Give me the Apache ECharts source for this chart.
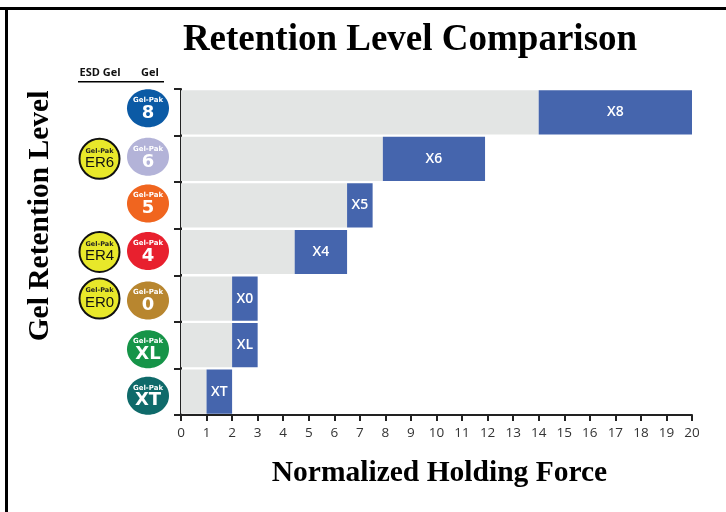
<!DOCTYPE html>
<html>
<head>
<meta charset="utf-8">
<title>Retention Level Comparison</title>
<script src="https://cdn.jsdelivr.net/npm/echarts@6/dist/echarts.min.js"></script>
<style>
  html, body { margin: 0; padding: 0; background: #fff; }
  #chart { width: 726px; height: 512px; }
</style>
</head>
<body>
<div id="chart"></div>
<script>
// top to bottom, same order as the picture
const levels = ['X8', 'X6', 'X5', 'X4', 'X0', 'XL', 'XT'];
const rangeStart = [14, 7.9, 6.5, 4.45, 2, 2, 1];
const rangeEnd = [20, 11.9, 7.5, 6.5, 3, 3, 2];

const gelNames = ['8', '6', '5', '4', '0', 'XL', 'XT'];
const gelColors = ['#0b5aa5', '#b3b3d8', '#f0651f', '#e8202e', '#b8862f', '#169448', '#0f6a6a'];
const esdLevels = ['X6', 'X4', 'X0'];
const esdNames = ['ER6', 'ER4', 'ER0'];

// badges sit a little off the band centres in the original
const gelNudge = [-4, -2, -2, -1, 2, 4, 4];

function gelBadge(params, api) {
  const i = params.dataIndex;
  const p = api.coord([0, levels[i]]);
  const cx = p[0] - 33;
  const cy = p[1] + gelNudge[i];
  return {
    type: 'group',
    children: [
      { type: 'ellipse', shape: { cx: cx, cy: cy, rx: 21, ry: 19 }, style: { fill: gelColors[i] } },
      { type: 'text', style: { x: cx, y: cy - 8, text: 'Gel-Pak', fill: '#fff', align: 'center', verticalAlign: 'middle',
        font: 'bold 7px "DejaVu Sans"' } },
      { type: 'text', style: { x: cx, y: cy + 5, text: gelNames[i], fill: '#fff', align: 'center', verticalAlign: 'middle',
        font: 'bold 18px "DejaVu Sans"' } }
    ]
  };
}

function esdBadge(params, api) {
  const i = params.dataIndex;
  const p = api.coord([0, esdLevels[i]]);
  const cx = p[0] - 81.5;
  const cy = p[1];
  return {
    type: 'group',
    children: [
      { type: 'circle', shape: { cx: cx, cy: cy, r: 20 }, style: { fill: '#e8e82a', stroke: '#111', lineWidth: 2 } },
      { type: 'text', style: { x: cx, y: cy - 8, text: 'Gel-Pak', fill: '#222', align: 'center', verticalAlign: 'middle',
        font: 'bold 6.5px "DejaVu Sans"' } },
      { type: 'text', style: { x: cx, y: cy + 4, text: esdNames[i], fill: '#111', align: 'center', verticalAlign: 'middle',
        font: '15px "Liberation Sans Narrow", "Liberation Sans"' } }
    ]
  };
}

const chart = echarts.init(document.getElementById('chart'));
chart.setOption({
  animation: false,
  title: {
    text: 'Retention Level Comparison',
    left: 405,
    top: 17,
    textAlign: 'center',
    textStyle: { fontFamily: 'Liberation Serif', fontWeight: 'bold', fontSize: 37, color: '#000' }
  },
  graphic: [
    // frame
    { type: 'rect', shape: { x: 0, y: 7, width: 726, height: 3 }, style: { fill: '#000' } },
    { type: 'rect', shape: { x: 5, y: 7, width: 3, height: 505 }, style: { fill: '#000' } },
    // badge column heads
    { type: 'text', style: { x: 100, y: 73, text: 'ESD Gel', fill: '#111', align: 'center', verticalAlign: 'middle',
      font: 'bold 11px "Open Sans"' } },
    { type: 'text', style: { x: 150, y: 73, text: 'Gel', fill: '#111', align: 'center', verticalAlign: 'middle',
      font: 'bold 11px "Open Sans"' } },
    { type: 'rect', shape: { x: 78, y: 81, width: 86, height: 1.5 }, style: { fill: '#000' } }
  ],
  grid: { left: 181, right: 34, top: 89, bottom: 97 },
  xAxis: {
    type: 'value',
    min: 0,
    max: 20,
    interval: 1,
    name: 'Normalized Holding Force',
    nameLocation: 'middle',
    nameGap: 43,
    nameTextStyle: { fontFamily: 'Liberation Serif', fontWeight: 'bold', fontSize: 29.5, color: '#000', padding: [0, 0, 0, 6] },
    splitLine: { show: false },
    axisLine: { show: true, lineStyle: { color: '#222', width: 2 } },
    axisTick: { show: true, length: 6, lineStyle: { color: '#222', width: 2 } },
    axisLabel: { fontFamily: 'Open Sans', fontSize: 13.5, color: '#333', margin: 11 }
  },
  yAxis: {
    type: 'category',
    inverse: true,
    data: levels,
    name: 'Gel Retention Level',
    nameLocation: 'middle',
    nameGap: 126,
    nameTextStyle: { fontFamily: 'Liberation Serif', fontWeight: 'bold', fontSize: 29.5, color: '#000', padding: [0, 0, 0, 72] },
    axisLine: { show: true, lineStyle: { color: '#222', width: 2 } },
    axisTick: { show: true, length: 7, alignWithLabel: false, lineStyle: { color: '#222', width: 2 } },
    axisLabel: { show: false }
  },
  series: [
    {
      name: 'offset',
      type: 'bar',
      stack: 'range',
      barWidth: '95%',
      data: rangeStart,
      silent: true,
      itemStyle: { color: '#e3e5e4' }
    },
    {
      name: 'range',
      type: 'bar',
      stack: 'range',
      barWidth: '95%',
      data: rangeEnd.map(function (end, i) { return end - rangeStart[i]; }),
      itemStyle: { color: '#4565ad' },
      label: {
        show: true,
        position: 'inside',
        formatter: function (p) { return levels[p.dataIndex]; },
        fontFamily: 'Open Sans',
        fontWeight: 600,
        fontSize: 14,
        color: '#fff'
      }
    },
    {
      type: 'custom',
      renderItem: gelBadge,
      coordinateSystem: 'cartesian2d',
      data: levels.map(function (l) { return [0, l]; }),
      silent: true,
      clip: false
    },
    {
      type: 'custom',
      renderItem: esdBadge,
      coordinateSystem: 'cartesian2d',
      data: esdLevels.map(function (l) { return [0, l]; }),
      silent: true,
      clip: false
    }
  ]
});
</script>
</body>
</html>
